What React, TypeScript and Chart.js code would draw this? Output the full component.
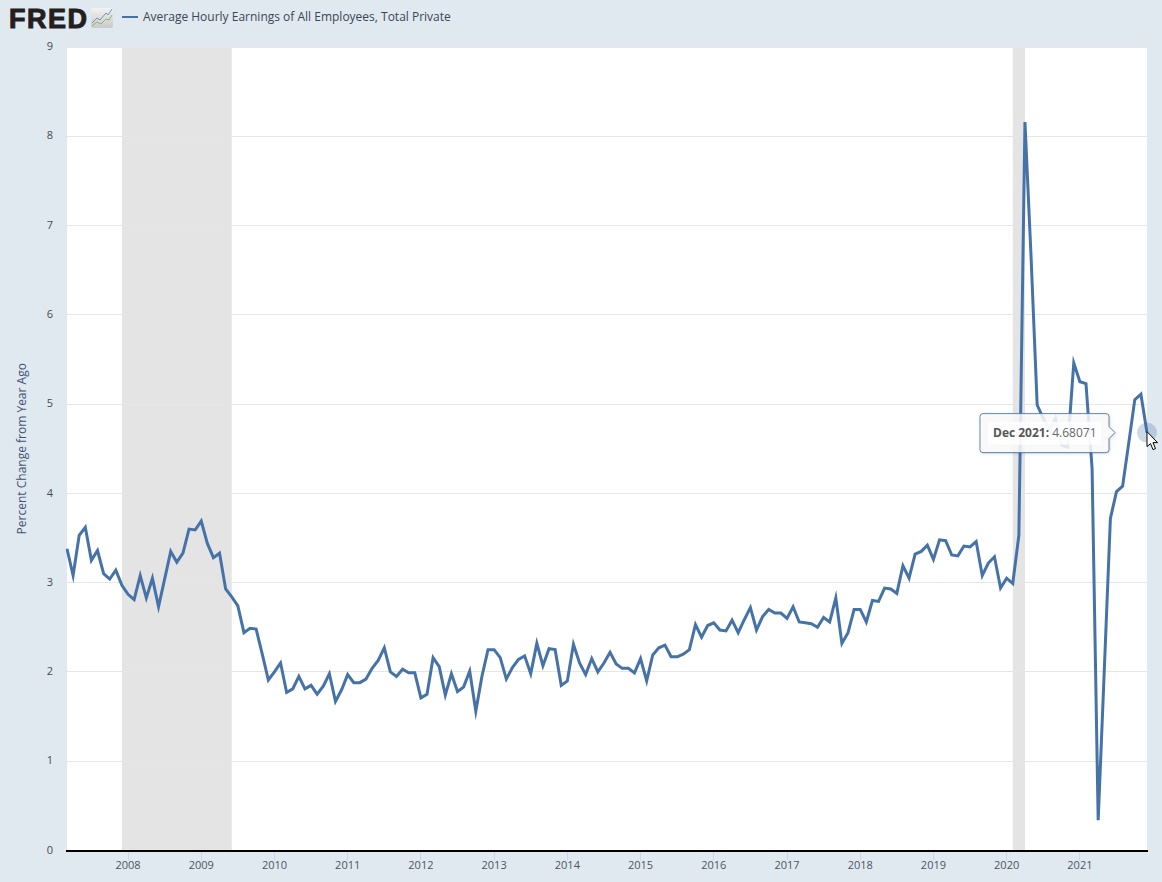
import React, { useEffect, useRef } from "react";
import { Chart, registerables } from "chart.js";

Chart.register(...registerables);

const seriesName = "Average Hourly Earnings of All Employees, Total Private";
const yAxisTitle = "Percent Change from Year Ago";
const startYear = 2007;
const startMonth = 2; // March
const monthNames = ["Jan", "Feb", "Mar", "Apr", "May", "Jun", "Jul", "Aug", "Sep", "Oct", "Nov", "Dec"];

const values2007 = [3.38, 3.08, 3.53, 3.62, 3.25, 3.36, 3.10, 3.04, 3.14, 2.97];
const values2008 = [2.87, 2.81, 3.08, 2.83, 3.05, 2.73, 3.04, 3.35, 3.23, 3.33, 3.60, 3.59];
const values2009 = [3.69, 3.44, 3.28, 3.33, 2.93, 2.84, 2.74, 2.44, 2.49, 2.48, 2.20, 1.91];
const values2010 = [2.0, 2.10, 1.77, 1.81, 1.95, 1.81, 1.85, 1.75, 1.84, 1.98, 1.67, 1.80];
const values2011 = [1.97, 1.88, 1.88, 1.92, 2.04, 2.13, 2.27, 2.00, 1.95, 2.03, 1.99, 1.99];
const values2012 = [1.71, 1.75, 2.16, 2.06, 1.74, 1.98, 1.78, 1.83, 2.01, 1.56, 1.95, 2.25];
const values2013 = [2.25, 2.16, 1.92, 2.05, 2.14, 2.18, 1.98, 2.32, 2.07, 2.26, 2.25, 1.85];
const values2014 = [1.90, 2.31, 2.10, 1.97, 2.15, 2.00, 2.10, 2.22, 2.09, 2.04, 2.04, 1.99];
const values2015 = [2.15, 1.90, 2.19, 2.27, 2.30, 2.17, 2.17, 2.20, 2.25, 2.53, 2.39, 2.52];
const values2016 = [2.55, 2.47, 2.46, 2.58, 2.44, 2.585, 2.72, 2.47, 2.62, 2.70, 2.66, 2.66];
const values2017 = [2.60, 2.73, 2.56, 2.55, 2.54, 2.50, 2.61, 2.56, 2.83, 2.32, 2.44, 2.70];
const values2018 = [2.70, 2.56, 2.80, 2.79, 2.94, 2.93, 2.88, 3.19, 3.05, 3.32, 3.35, 3.42];
const values2019 = [3.26, 3.48, 3.47, 3.31, 3.30, 3.41, 3.40, 3.46, 3.08, 3.22, 3.29, 2.94];
const values2020 = [3.05, 2.99, 3.53, 8.16, 6.65, 4.99, 4.84, 4.70, 4.84, 4.54, 4.52, 5.46];
const values2021 = [5.25, 5.23, 4.28, 0.34, 2.02, 3.72, 4.02, 4.08, 4.56, 5.05, 5.11, 4.68071];

const earnings = [
  ...values2007, ...values2008, ...values2009, ...values2010, ...values2011,
  ...values2012, ...values2013, ...values2014, ...values2015, ...values2016,
  ...values2017, ...values2018, ...values2019, ...values2020, ...values2021,
];

const months = earnings.map((_, i) => {
  const t = startMonth + i;
  return `${monthNames[t % 12]} ${startYear + Math.floor(t / 12)}`;
});

const recessions = [
  ["Dec 2007", "Jun 2009"],
  ["Feb 2020", "Apr 2020"],
];

const FONT = '"Open Sans"';
const BG = "#e1e9f0";
const LINE = "#4572a7";

const decorations = {
  id: "fredDecorations",
  beforeDraw(chart: any) {
    const c = chart.ctx;
    c.save();
    c.fillStyle = BG;
    c.fillRect(0, 0, chart.width, chart.height);
    c.fillStyle = "#ffffff";
    const a = chart.chartArea;
    c.fillRect(a.left, a.top, a.right - a.left, a.bottom - a.top);
    c.fillStyle = "#e4e4e4";
    const x = chart.scales.x;
    recessions.forEach(([s, e]) => {
      const x0 = x.getPixelForValue(months.indexOf(s));
      const x1 = x.getPixelForValue(months.indexOf(e));
      c.fillRect(x0, a.top, x1 - x0, a.bottom - a.top);
    });
    c.restore();
  },
  afterDraw(chart: any) {
    const c = chart.ctx;
    c.save();
    // logo
    c.fillStyle = "#231f20";
    c.strokeStyle = "#231f20";
    c.lineWidth = 1;
    c.font = `bold 27px "Liberation Sans"`;
    c.textBaseline = "alphabetic";
    c.textAlign = "left";
    c.letterSpacing = "1.5px";
    c.fillText("FRED", 9, 27.5);
    c.strokeText("FRED", 9, 27.5);
    c.letterSpacing = "0px";
    // logo icon
    const g = c.createLinearGradient(0, 8, 0, 28);
    g.addColorStop(0, "#f2f2f2");
    g.addColorStop(1, "#c9c9c9");
    c.fillStyle = g;
    c.beginPath();
    c.roundRect(91, 8, 22, 20, 2);
    c.fill();
    c.lineWidth = 1;
    c.strokeStyle = "#6f93b8";
    c.beginPath();
    c.moveTo(92, 23); c.lineTo(97, 18); c.lineTo(100, 20); c.lineTo(106, 13); c.lineTo(108, 15); c.lineTo(112, 9);
    c.stroke();
    c.strokeStyle = "#8ab56a";
    c.beginPath();
    c.moveTo(92, 26); c.lineTo(97, 22); c.lineTo(101, 24); c.lineTo(106, 19); c.lineTo(109, 20); c.lineTo(112, 15);
    c.stroke();
    // legend
    c.fillStyle = LINE;
    c.fillRect(122, 16, 16, 2);
    c.fillStyle = "#3a4656";
    c.font = `12px ${FONT}`;
    c.textBaseline = "middle";
    c.fillText(seriesName, 143, 17.5);
    // hovered point
    const last = earnings.length - 1;
    const px = chart.scales.x.getPixelForValue(last);
    const py = chart.scales.y.getPixelForValue(earnings[last]);
    c.fillStyle = "rgba(69,114,167,0.27)";
    c.beginPath();
    c.arc(px, py, 10, 0, Math.PI * 2);
    c.fill();
    // tooltip
    const l = px - 167, r = px - 38, t = py - 19, b = py + 20;
    c.save();
    c.shadowColor = "rgba(0,0,0,0.2)";
    c.shadowBlur = 3;
    c.shadowOffsetX = 1;
    c.shadowOffsetY = 1;
    c.fillStyle = "rgba(255,255,255,0.85)";
    c.strokeStyle = "rgba(69,114,167,0.85)";
    c.lineWidth = 1;
    c.beginPath();
    c.moveTo(l + 3, t);
    c.lineTo(r - 3, t);
    c.quadraticCurveTo(r, t, r, t + 3);
    c.lineTo(r, py - 6);
    c.lineTo(r + 6, py);
    c.lineTo(r, py + 6);
    c.lineTo(r, b - 3);
    c.quadraticCurveTo(r, b, r - 3, b);
    c.lineTo(l + 3, b);
    c.quadraticCurveTo(l, b, l, b - 3);
    c.lineTo(l, t + 3);
    c.quadraticCurveTo(l, t, l + 3, t);
    c.closePath();
    c.fill();
    c.shadowColor = "transparent";
    c.stroke();
    c.restore();
    c.fillStyle = "rgba(255,255,255,0.75)";
    c.fillRect(l + 8, t + 8, 113, 23);
    const head = `${months[last]}: `;
    c.font = `bold 12px ${FONT}`;
    c.fillStyle = "#555555";
    c.textBaseline = "middle";
    c.fillText(head, l + 13, py + 0.5);
    const w = c.measureText(head).width;
    c.font = `12px ${FONT}`;
    c.fillStyle = "#666666";
    c.fillText(String(earnings[last]), l + 13 + w, py + 0.5);
    // cursor
    const ox = px, oy = py - 1;
    c.fillStyle = "#ffffff";
    c.strokeStyle = "#000000";
    c.lineWidth = 1;
    c.beginPath();
    c.moveTo(ox, oy);
    c.lineTo(ox, oy + 15);
    c.lineTo(ox + 3.5, oy + 12);
    c.lineTo(ox + 6, oy + 18);
    c.lineTo(ox + 8.5, oy + 17);
    c.lineTo(ox + 6, oy + 11);
    c.lineTo(ox + 10.5, oy + 11);
    c.closePath();
    c.fill();
    c.stroke();
    c.restore();
  },
};

export default function App() {
  const ref = useRef<HTMLCanvasElement>(null);
  useEffect(() => {
    document.body.style.margin = "0";
    const canvas = ref.current!;
    canvas.getContext("2d", { alpha: false });
    const chart = new Chart(canvas, {
      type: "line",
      data: {
        labels: months,
        datasets: [
          {
            label: seriesName,
            data: earnings,
            borderColor: LINE,
            borderWidth: 3,
            pointRadius: 0,
            tension: 0,
            borderJoinStyle: "miter",
            fill: false,
          },
        ],
      },
      options: {
        responsive: false,
        animation: false,
        events: [],
        layout: { padding: { top: 47, right: 15, left: 0, bottom: 0 } },
        plugins: { legend: { display: false }, tooltip: { enabled: false } },
        scales: {
          x: {
            type: "category",
            offset: false,
            border: { color: "#000000", width: 2 },
            grid: {
              offset: false,
              drawOnChartArea: false,
              drawTicks: true,
              tickLength: 10,
              tickColor: "#ccd6eb",
              tickWidth: 1,
            },
            ticks: {
              autoSkip: false,
              maxRotation: 0,
              minRotation: 0,
              padding: -1,
              color: "#4a5563",
              font: { family: FONT, size: 11 },
              callback(value: any) {
                return months[value].slice(4);
              },
            },
            afterBuildTicks(scale: any) {
              scale.ticks = scale.ticks.filter((t: any) => months[t.value].startsWith("Jan"));
            },
            afterFit(scale: any) {
              scale.height = 31.5;
            },
          },
          y: {
            min: 0,
            max: 9,
            border: { display: false },
            grid: { color: "#e6e6e6", lineWidth: 1, drawTicks: false },
            ticks: {
              stepSize: 1,
              padding: 14,
              color: "#4a4a4a",
              font: { family: FONT, size: 11 },
            },
            title: {
              display: true,
              text: yAxisTitle,
              color: "#3f5272",
              font: { family: FONT, size: 12 },
              padding: { top: 15, bottom: 0 },
            },
            afterFit(scale: any) {
              scale.width = 67;
            },
          },
        },
      },
      plugins: [decorations],
    } as any);
    return () => chart.destroy();
  }, []);
  return <canvas ref={ref} width={1162} height={882} style={{ display: "block" }} />;
}
